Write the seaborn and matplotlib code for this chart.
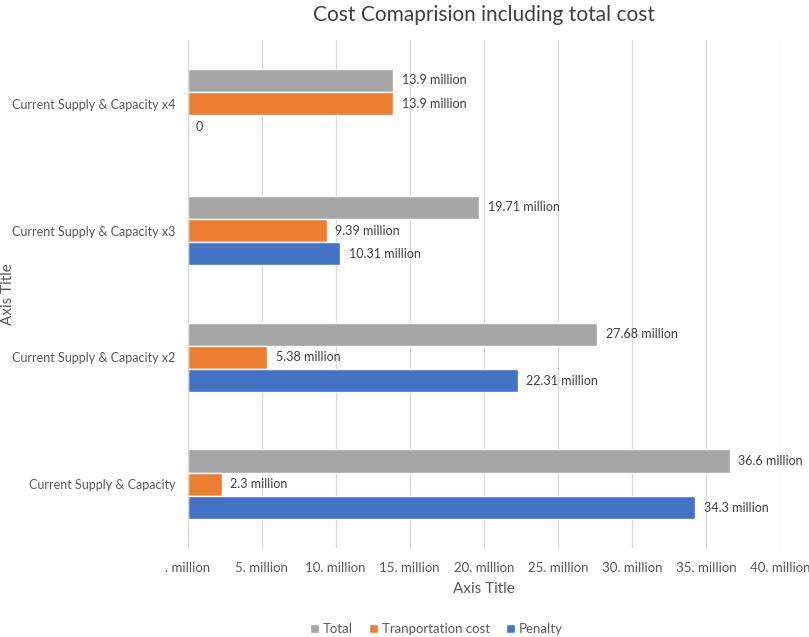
import pandas as pd
import matplotlib
matplotlib.use('Agg')
import matplotlib.pyplot as plt
import seaborn as sns

# data (millions)
scenarios = ['Current Supply & Capacity x4', 'Current Supply & Capacity x3',
             'Current Supply & Capacity x2', 'Current Supply & Capacity']
series = ['Total', 'Tranportation cost', 'Penalty']
total = [13.9, 19.71, 27.68, 36.6]
transport = [13.9, 9.39, 5.38, 2.3]
penalty = [0, 10.31, 22.31, 34.3]
x_ticks = [0, 5, 10, 15, 20, 25, 30, 35, 40]
x_tick_labels = ['. million', '5. million', '10. million', '15. million', '20. million',
                 '25. million', '30. million', '35. million', '40. million']
colors = ['#A5A5A5', '#ED7D31', '#4472C4']

rows = []
for name, vals in zip(series, [total, transport, penalty]):
    for sc, v in zip(scenarios, vals):
        rows.append({'scenario': sc, 'series': name, 'value': v})
df = pd.DataFrame(rows)

sns.set_style('white')
plt.rcParams['font.family'] = ['Lato', 'DejaVu Sans']

fig = plt.figure(figsize=(8.09, 6.37), dpi=100)
ax = fig.add_axes([0.232, 0.14, 0.732, 0.797])

sns.barplot(data=df, y='scenario', x='value', hue='series', order=scenarios,
            hue_order=series, palette=colors, orient='h', width=0.55,
            saturation=1, ax=ax, legend=True)

for cont, name in zip(ax.containers, series):
    labels = ['0' if v == 0 else f'{v:g} million' for v in cont.datavalues]
    ax.bar_label(cont, labels=labels, padding=6, fontsize=9, color='#404040')

ax.set_xlim(0, 40)
ax.set_xticks(x_ticks)
ax.set_xticklabels(x_tick_labels, fontsize=9.5, color='#595959')
ax.tick_params(axis='y', labelsize=9, labelcolor='#595959', length=0, pad=9)
ax.tick_params(axis='x', length=0, pad=10)
ax.grid(axis='x', color='#D9D9D9', linewidth=1)
ax.set_axisbelow(True)
for s in ['top', 'right', 'bottom']:
    ax.spines[s].set_visible(False)
ax.spines['left'].set_color('#D9D9D9')

ax.set_xlabel('Axis Title', fontsize=11, color='#595959', labelpad=6)
ax.set_ylabel('Axis Title', fontsize=11, color='#595959')
ax.yaxis.set_label_coords(-0.292, 0.5)
ax.set_title('Cost Comaprision including total cost', fontsize=15, color='#404040', pad=14)

ax.legend(loc='upper center', bbox_to_anchor=(0.42, -0.125), ncol=3, frameon=False,
          fontsize=9.5, handlelength=0.7, handleheight=0.7, handletextpad=0.3,
          columnspacing=1.2, labelcolor='#595959')

fig.savefig('out.png', dpi=100)
